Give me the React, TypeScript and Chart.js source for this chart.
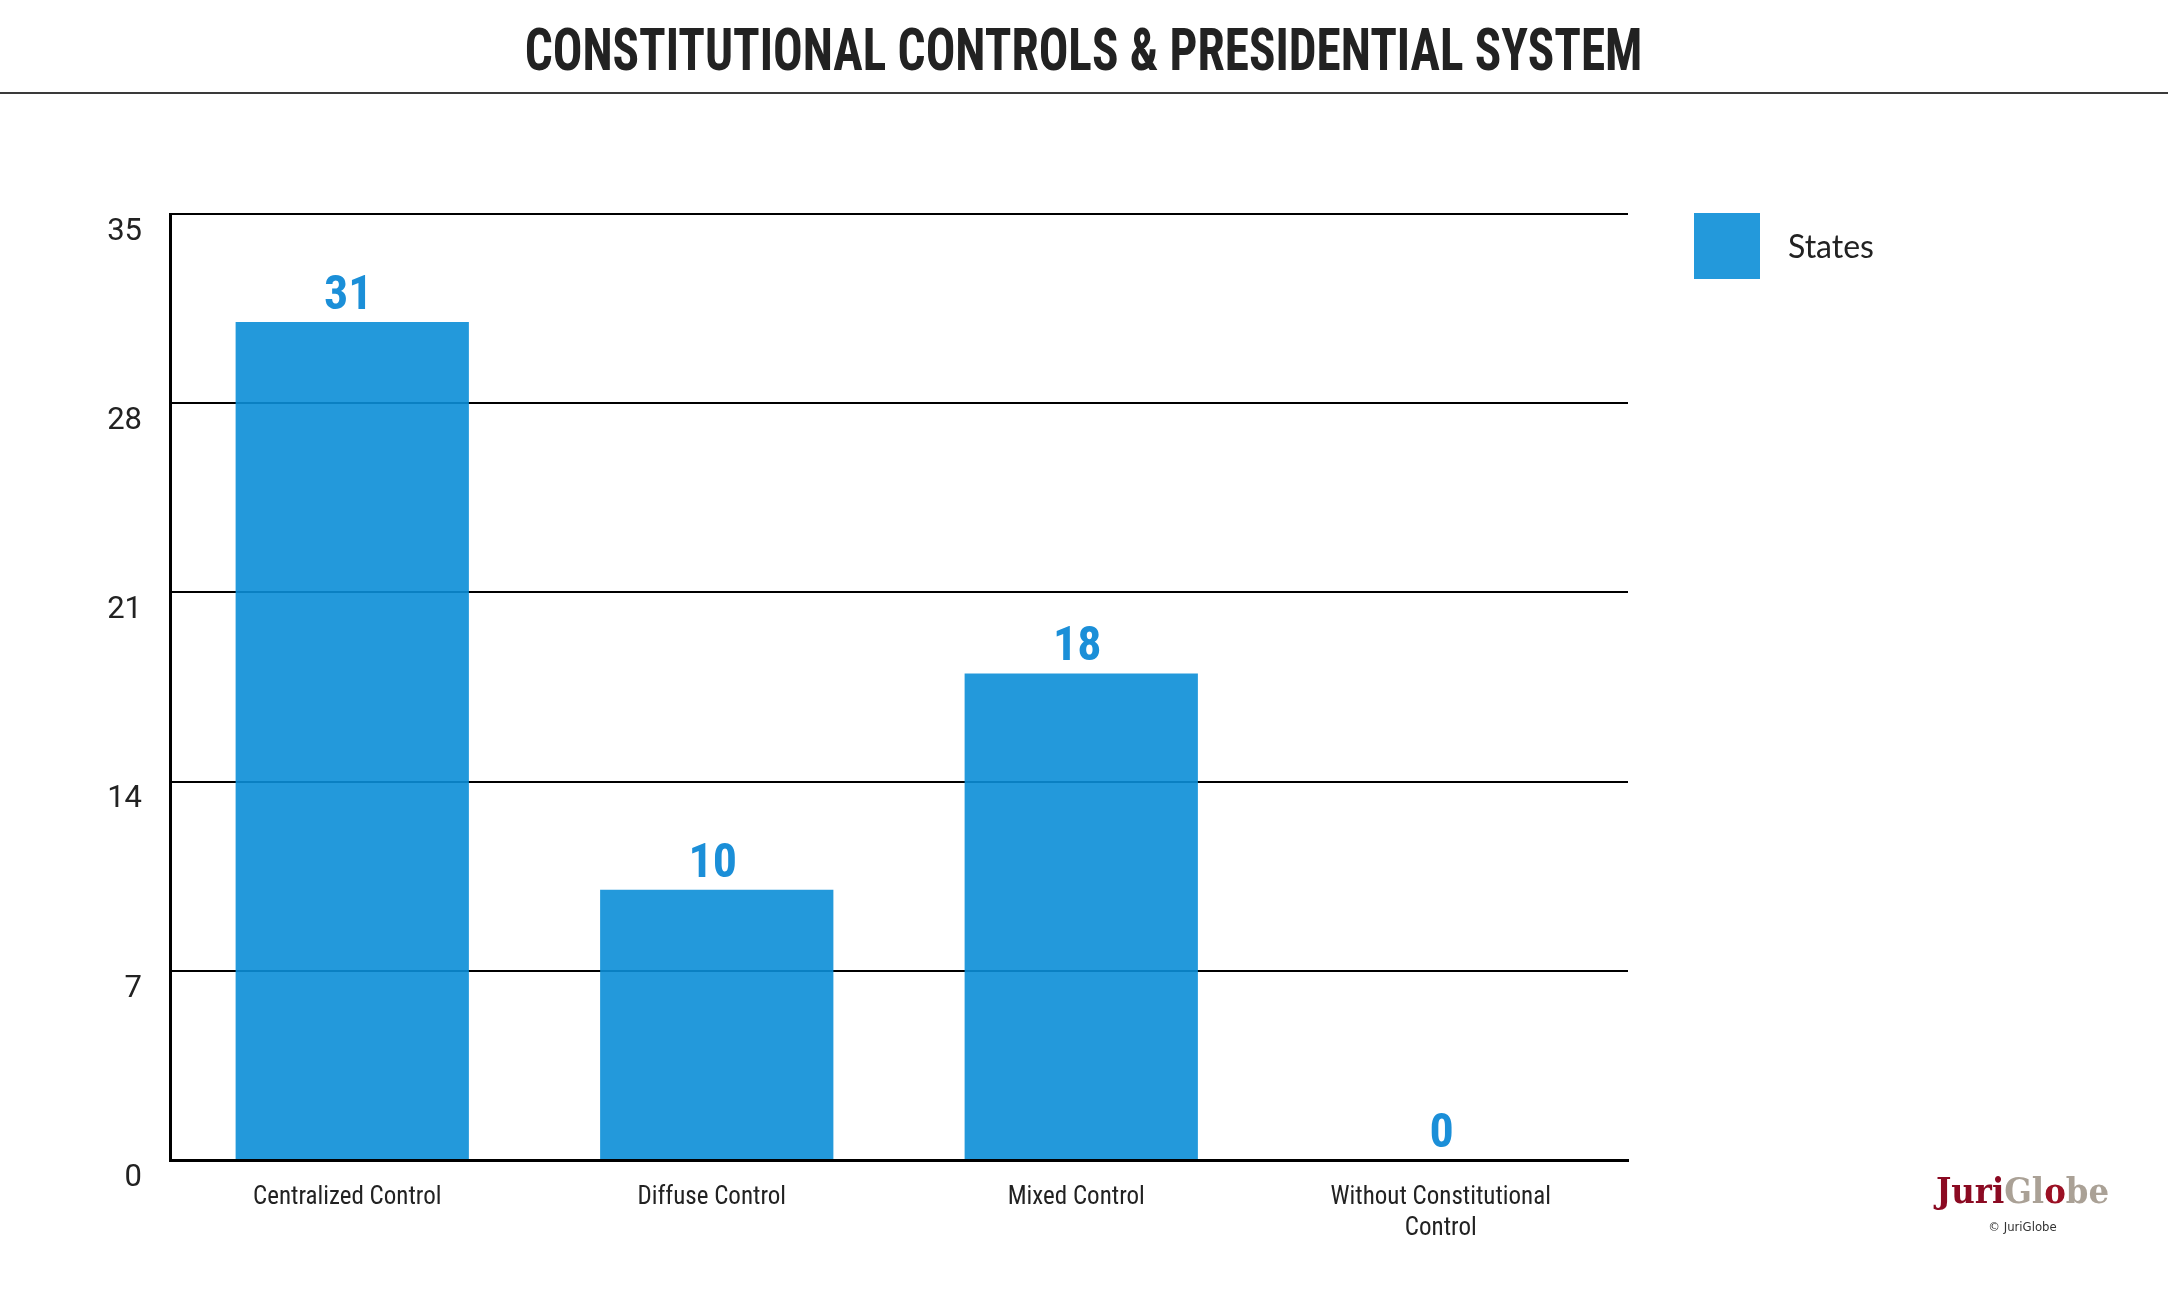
import React, { useEffect, useRef } from "react";
import { Chart, registerables } from "chart.js";

Chart.register(...registerables);

const TITLE = "CONSTITUTIONAL CONTROLS & PRESIDENTIAL SYSTEM";
const categories: (string | string[])[] = [
  "Centralized Control",
  "Diffuse Control",
  "Mixed Control",
  ["Without Constitutional", "Control"],
];
const seriesLabel = "States";
const statesValues = [31, 10, 18, 0];
const yTicks = [0, 7, 14, 21, 28, 35];

const BAR_COLOR = "rgba(11,142,215,0.9)";
const LEGEND_COLOR = "#2399DB";
const VALUE_COLOR = "#1b8fd8";
const NARROW = "'Roboto Condensed', 'DejaVu Sans Condensed', sans-serif";

const valueLabels = {
  id: "valueLabels",
  afterDatasetsDraw(chart: any) {
    const ctx = chart.ctx;
    const meta = chart.getDatasetMeta(0);
    const data = chart.data.datasets[0].data as number[];
    ctx.save();
    ctx.fillStyle = VALUE_COLOR;
    ctx.font = `bold 48px ${NARROW}`;
    ctx.textAlign = "center";
    ctx.textBaseline = "alphabetic";
    meta.data.forEach((el: any, i: number) => {
      ctx.fillText(String(data[i]), el.x - 4, el.y - 13);
    });
    ctx.restore();
  },
};

const customLegend = {
  id: "customLegend",
  afterDraw(chart: any) {
    const ctx = chart.ctx;
    const ds = chart.data.datasets[0];
    const x0 = chart.chartArea.right + 66;
    const y0 = chart.chartArea.top - 1;
    ctx.save();
    ctx.fillStyle = LEGEND_COLOR;
    ctx.fillRect(x0, y0, 66, 66);
    ctx.fillStyle = "#222";
    ctx.font = "32px Lato, 'Open Sans', sans-serif";
    ctx.textAlign = "left";
    ctx.textBaseline = "middle";
    ctx.fillText(ds.label, x0 + 94, y0 + 35);
    ctx.restore();
  },
};

export default function App() {
  const canvasRef = useRef<HTMLCanvasElement | null>(null);

  useEffect(() => {
    const canvas = canvasRef.current;
    if (!canvas) return;
    const chart = new Chart(canvas, {
      type: "bar",
      data: {
        labels: categories as any,
        datasets: [
          {
            label: seriesLabel,
            data: statesValues,
            backgroundColor: BAR_COLOR,
            borderWidth: 0,
            barPercentage: 0.64,
            categoryPercentage: 1,
          },
        ],
      },
      options: {
        responsive: false,
        animation: false,
        devicePixelRatio: 1,
        layout: { padding: { top: 214, right: 540, left: 0, bottom: 0 } },
        plugins: {
          legend: { display: false },
          tooltip: { enabled: false },
          title: { display: false },
        },
        scales: {
          x: {
            grid: { display: false, drawTicks: false },
            border: { display: true, color: "#000", width: 3 },
            ticks: {
              color: "#222",
              font: { family: NARROW, size: 25, lineHeight: 1.25 },
              padding: 22,
              labelOffset: -5,
              maxRotation: 0,
              autoSkip: false,
            },
            afterFit: (s: any) => {
              s.height = 140;
            },
          },
          y: {
            min: 0,
            max: 35,
            afterBuildTicks: (s: any) => {
              s.ticks = yTicks.map((v) => ({ value: v }));
            },
            grid: { color: "#000", lineWidth: 2, drawTicks: false },
            border: { display: true, color: "#000", width: 3 },
            ticks: {
              color: "#222",
              font: { family: "Roboto, sans-serif", size: 31 },
              padding: 28,
              labelOffset: 18,
            },
            afterFit: (s: any) => {
              s.width = 170;
            },
          },
        },
      },
      plugins: [valueLabels, customLegend],
    });
    return () => chart.destroy();
  }, []);

  return (
    <div
      style={{
        position: "absolute",
        left: 0,
        top: 0,
        width: 2168,
        height: 1300,
        background: "#fff",
        overflow: "hidden",
      }}
    >
      <div
        style={{
          position: "absolute",
          left: 0,
          top: 14,
          width: 2168,
          textAlign: "center",
          lineHeight: "72px",
        }}
      >
        <span
          style={{
            display: "inline-block",
            transform: "scaleX(0.82)",
            fontFamily: NARROW,
            fontWeight: "bold",
            fontSize: 60,
            color: "#222",
            whiteSpace: "nowrap",
          }}
        >
          {TITLE}
        </span>
      </div>
      <div
        style={{
          position: "absolute",
          left: 0,
          top: 92,
          width: 2168,
          height: 2,
          background: "#3a3a3a",
        }}
      />
      <canvas
        ref={canvasRef}
        width={2168}
        height={1300}
        style={{ position: "absolute", left: 0, top: 0, width: 2168, height: 1300 }}
      />
      <div
        style={{
          position: "absolute",
          left: 1900,
          top: 1168,
          width: 245,
          textAlign: "center",
          fontFamily: "'DejaVu Serif Condensed', 'DejaVu Serif', serif",
          fontWeight: "bold",
          fontSize: 36,
          lineHeight: "44px",
          whiteSpace: "nowrap",
        }}
      >
        <span style={{ color: "#8b0a22" }}>Juri</span>
        <span style={{ color: "#aaa196" }}>Gl</span>
        <span style={{ color: "#9b1024" }}>o</span>
        <span style={{ color: "#aaa196" }}>be</span>
      </div>
      <div
        style={{
          position: "absolute",
          left: 1900,
          top: 1218,
          width: 245,
          textAlign: "center",
          fontFamily: "'DejaVu Sans Condensed', sans-serif",
          fontSize: 13,
          lineHeight: "18px",
          color: "#333",
        }}
      >
        © JuriGlobe
      </div>
    </div>
  );
}
